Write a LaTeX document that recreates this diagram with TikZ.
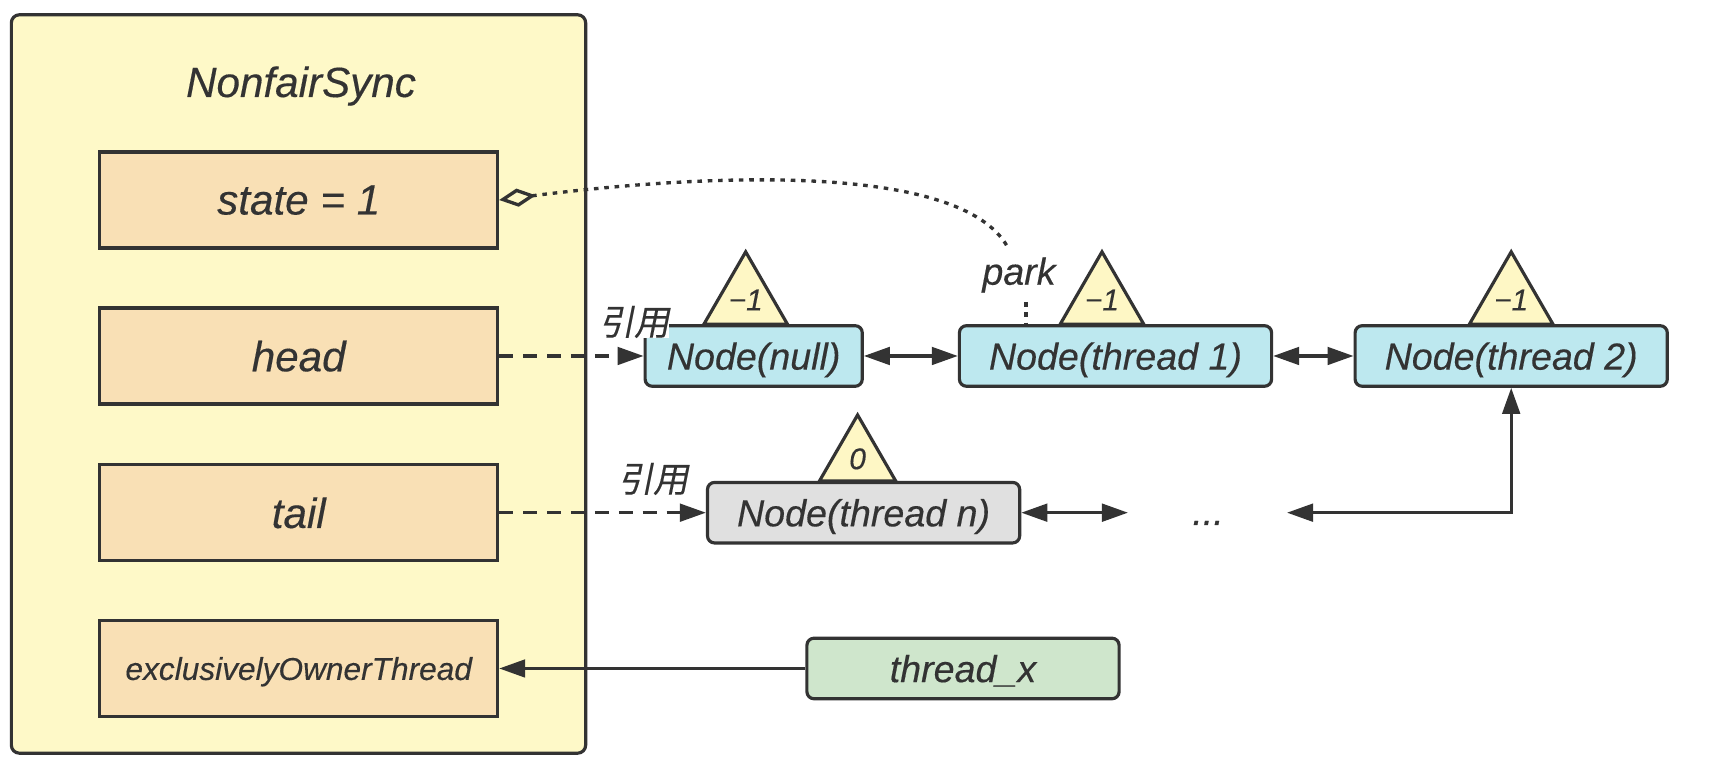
\documentclass[tikz,border=0pt]{standalone}
\usepackage{fontspec}
\setmainfont{Liberation Sans}[ItalicFeatures={FakeBold=0.3}]
\newfontfamily\cjkfont[FakeSlant=0.2,FakeBold=0.3]{Noto Sans CJK SC}
\usepackage{tikz}
\usetikzlibrary{positioning}
\usetikzlibrary{arrows.meta,shapes.geometric}

\definecolor{linegray}{HTML}{333333}
\definecolor{syncyellow}{HTML}{FEF9C8}
\definecolor{peach}{HTML}{F9E0B5}
\definecolor{cyanfill}{HTML}{BDE8EF}
\definecolor{greyfill}{HTML}{E0E0E0}
\definecolor{greenfill}{HTML}{CFE6CC}
\definecolor{triyellow}{HTML}{FEF7C5}

\tikzset{
  field/.style={draw=linegray,line width=0.9pt,fill=peach,minimum width=3.975cm,minimum height=0.96cm,
    inner sep=0pt,text depth=0pt,text=linegray,font=\fontsize{12}{14}\selectfont\itshape},
  qnode/.style={draw=linegray,line width=0.9pt,rounded corners=2pt,fill=cyanfill,minimum width=3.12cm,
    minimum height=0.605cm,inner sep=0pt,text depth=0pt,text=linegray,font=\fontsize{10.7}{12}\selectfont\itshape},
  tri/.style={regular polygon,regular polygon sides=3,draw=linegray,line width=0.9pt,fill=triyellow,
    minimum size=0.878cm,inner sep=0pt,outer sep=0pt,anchor=south,text=linegray,
    font=\fontsize{8.5}{10}\selectfont\itshape},
  reflabel/.style={inner sep=0pt,text=linegray,font=\fontsize{10}{12}\selectfont\cjkfont},
  link/.style={draw=linegray,line width=0.9pt,-{Triangle[length=7.4pt,width=5pt]}},
  twoway/.style={draw=linegray,line width=0.9pt,{Triangle[length=7.4pt,width=5pt]}-{Triangle[length=7.4pt,width=5pt]}},
  refline/.style={link,dash pattern=on 4pt off 2.8pt},
  dotline/.style={draw=linegray,line width=0.95pt,dash pattern=on 1.3pt off 1.65pt}
}

\begin{document}
\begin{tikzpicture}[x=0.01cm,y=-0.01cm]
\useasboundingbox (0,0) rectangle (1714,774);

% NonfairSync
\node[draw=linegray,line width=0.9pt,rounded corners=2.3pt,fill=syncyellow,minimum width=5.74cm,minimum height=7.38cm] (sync) at (298.5,384) {};
\node[anchor=base,text=linegray,font=\fontsize{12}{14}\selectfont\itshape] (title) at (301,97) {NonfairSync};
\node[field] (state) at (298.75,200) {state = 1};
\node[field] (head) at (298.75,356) {head};
\node[field] (tail) at (298.75,512.7) {tail};
\node[field,font=\fontsize{9}{11}\selectfont\itshape] (owner) at (298.75,668.5) {exclusivelyOwnerThread};

% queue
\node[qnode,minimum width=2.17cm] (null) at (753.7,356) {Node(null)};
\node[qnode] (t1) at (1115.5,356) {Node(thread 1)};
\node[qnode] (t2) at (1511.2,356) {Node(thread 2)};
\node[qnode,fill=greyfill] (tn) at (863.6,512.7) {Node(thread n)};
\node[qnode,fill=greenfill] (tx) at (963,668.5) {thread\_x};

\node[tri] (wnull) at ([xshift=-0.08cm]null.north) {−1};
\node[tri] (w1) at ([xshift=-0.135cm]t1.north) {−1};
\node[tri] (w2) at (t2.north) {−1};
\node[tri] (wn) at ([xshift=-0.06cm]tn.north) {0};

\node[text=linegray,font=\fontsize{10.7}{12}\selectfont\itshape] (park) at (1019,275) {park};
\node[text=linegray,inner sep=0pt,font=\fontsize{10.7}{12}\selectfont\itshape] (dots) at (1208,523) {...};
\coordinate (parkup) at (1007,246);
\coordinate (parkdown) at (1026,302);
\coordinate (dotsL) at (1128,512.7);
\coordinate (dotsR) at (1287,512.7);

% links
\draw[refline] (head.east) -- (null.west);
\draw[refline] (tail.east) -- (tn.west);
\draw[twoway] (null.east) -- (t1.west);
\draw[twoway] (t1.east) -- (t2.west);
\draw[twoway] (tn.east) -- (dotsL);
\draw[twoway] (dotsR) -| (t2.south);
\draw[link] (tx.west) -- (owner.east);
\draw[dotline,{Diamond[open,length=10.5pt,width=5.2pt]}-] (state.east) .. controls (720,172) and (960,165) .. (parkup);
\draw[dotline] (parkdown) -- (parkdown |- t1.north);

\node[reflabel,fill=white] (refhead) at (634,322) {引用};
\node[reflabel] (reftail) at (653,479) {引用};
\end{tikzpicture}
\end{document}
